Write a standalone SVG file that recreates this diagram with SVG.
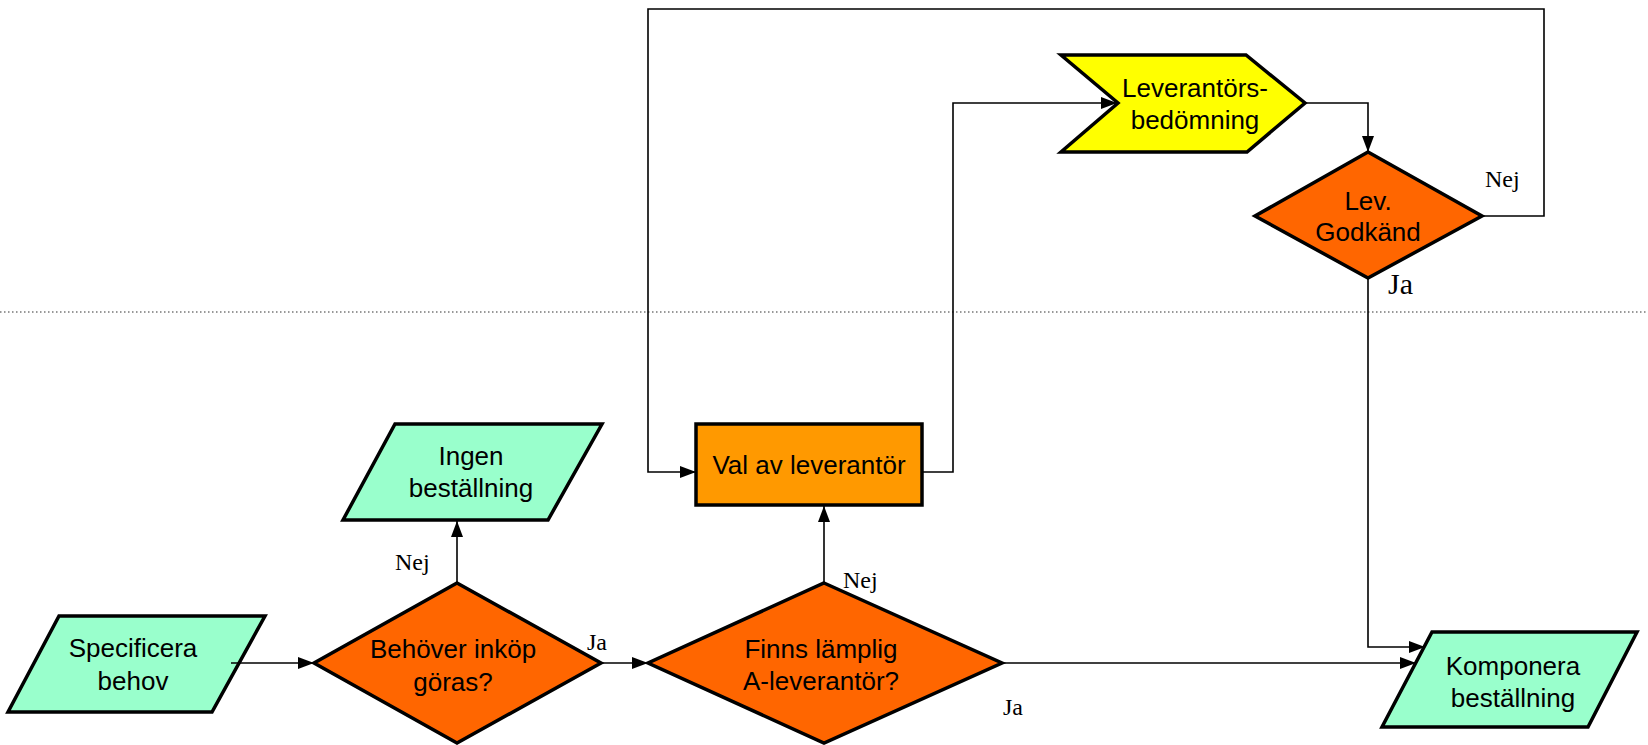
<svg xmlns="http://www.w3.org/2000/svg" width="1648" height="745" viewBox="0 0 1648 745">
  <style>
    .shape { stroke: #000; stroke-width: 3.5; stroke-linejoin: miter; }
    .io { fill: #99FFCC; }
    .decision { fill: #FF6600; }
    .process { fill: #FF9900; }
    .assess { fill: #FFFF00; }
    .label { font-family: "Liberation Sans", Arial, sans-serif; font-size: 26px; fill: #000; text-anchor: middle; }
    .edge { fill: none; stroke: #000; stroke-width: 1.6; }
    .tag { font-family: "Liberation Serif", "Times New Roman", serif; font-size: 24px; fill: #000; }
    .divider { stroke: #333; stroke-width: 1.2; stroke-dasharray: 1.5 2.5; }
  </style>
  <defs>
    <marker id="arrow" markerUnits="userSpaceOnUse" markerWidth="16" markerHeight="12" refX="16" refY="6" orient="auto">
      <path d="M0,0 L16,6 L0,12 z" fill="#000"/>
    </marker>
  </defs>

  <!-- boundary between supplier assessment and ordering -->
  <line class="divider" x1="0" y1="312" x2="1648" y2="312"/>

  <g id="specificera">
    <polygon class="shape io" points="59,616 265,616 212,712 8,712"/>
    <text class="label" x="133" y="657">Specificera</text>
    <text class="label" x="133" y="690">behov</text>
  </g>

  <g id="ingen-bestallning">
    <polygon class="shape io" points="395,424 602,424 548,520 343,520"/>
    <text class="label" x="471" y="465">Ingen</text>
    <text class="label" x="471" y="497">beställning</text>
  </g>

  <g id="behover-inkop">
    <polygon class="shape decision" points="457,583 601,663 457,743 314,663"/>
    <text class="label" x="453" y="658">Behöver inköp</text>
    <text class="label" x="453" y="691">göras?</text>
  </g>

  <g id="finns-a-leverantor">
    <polygon class="shape decision" points="824,583 1002,663 824,743 648,663"/>
    <text class="label" x="821" y="658">Finns lämplig</text>
    <text class="label" x="821" y="690">A-leverantör?</text>
  </g>

  <g id="val-av-leverantor">
    <rect class="shape process" x="696" y="424" width="226" height="81"/>
    <text class="label" x="809" y="474">Val av leverantör</text>
  </g>

  <g id="leverantorsbedomning">
    <polygon class="shape assess" points="1061,55 1246,55 1305,103 1247,152 1061,152 1118,103"/>
    <text class="label" x="1195" y="97">Leverantörs-</text>
    <text class="label" x="1195" y="129">bedömning</text>
  </g>

  <g id="lev-godkand">
    <polygon class="shape decision" points="1368,152 1482,216 1368,278 1255,216"/>
    <text class="label" x="1368" y="210">Lev.</text>
    <text class="label" x="1368" y="241">Godkänd</text>
  </g>

  <g id="komponera-bestallning">
    <polygon class="shape io" points="1432,632 1637,632 1588,727 1382,727"/>
    <text class="label" x="1513" y="675">Komponera</text>
    <text class="label" x="1513" y="707">beställning</text>
  </g>

  <g id="connectors">
    <path class="edge" d="M231,663 H314" marker-end="url(#arrow)"/>
    <path class="edge" d="M457,583 V521" marker-end="url(#arrow)"/>
    <path class="edge" d="M601,663 H648" marker-end="url(#arrow)"/>
    <path class="edge" d="M824,583 V506" marker-end="url(#arrow)"/>
    <path class="edge" d="M1002,663 H1416" marker-end="url(#arrow)"/>
    <path class="edge" d="M922,472 H953 V103 H1117" marker-end="url(#arrow)"/>
    <path class="edge" d="M1305,103 H1368 V152" marker-end="url(#arrow)"/>
    <path class="edge" d="M1482,216 H1544 V9 H648 V472 H696" marker-end="url(#arrow)"/>
    <path class="edge" d="M1368,278 V647 H1425" marker-end="url(#arrow)"/>

    <text class="tag" x="395" y="570">Nej</text>
    <text class="tag" x="587" y="650">Ja</text>
    <text class="tag" x="843" y="588">Nej</text>
    <text class="tag" x="1003" y="715">Ja</text>
    <text class="tag" x="1485" y="187">Nej</text>
    <text class="tag" x="1388" y="294" style="font-size:30px">Ja</text>
  </g>
</svg>
